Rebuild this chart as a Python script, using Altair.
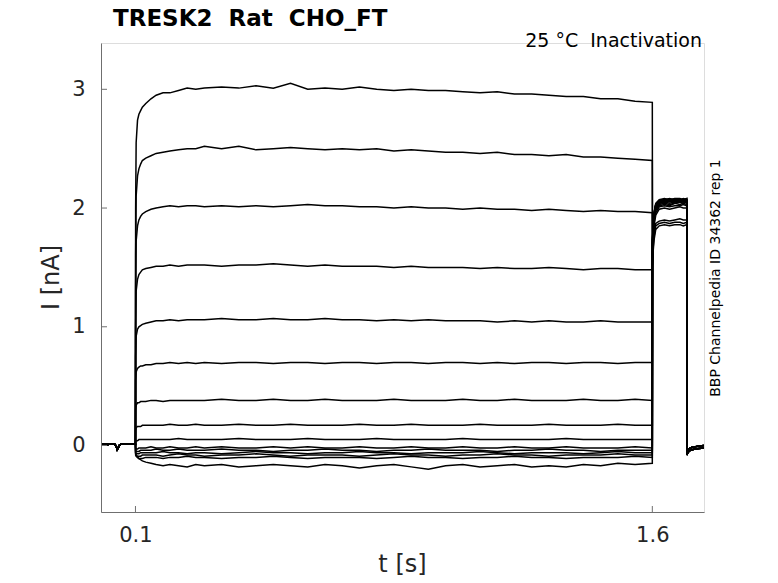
import altair as alt
import pandas as pd

# ---------------- data ----------------
# holding segment (shared by all sweeps)
t_hold = [0.003, 0.01, 0.02, 0.03, 0.04, 0.044, 0.047, 0.05, 0.054, 0.06, 0.07, 0.08, 0.09, 0.095]
i_hold = [0.012, 0.012, 0.008, 0.012, 0.01, -0.005, -0.035, -0.02, 0.005, 0.012, 0.01, 0.013, 0.01, 0.012]

# prepulse segment
t_pre = [0.1, 0.1005, 0.102, 0.106, 0.11, 0.115, 0.12, 0.13, 0.145, 0.16, 0.18, 0.2, 0.225, 0.25, 0.275,
         0.3, 0.35, 0.4, 0.45, 0.5, 0.55, 0.6, 0.65, 0.7, 0.75,
         0.8, 0.85, 0.9, 0.95, 1.0, 1.05, 1.1, 1.15, 1.2, 1.25,
         1.3, 1.35, 1.4, 1.45, 1.5, 1.55, 1.6]

pre_1 = [0.01, 2.0, 2.55, 2.74, 2.79, 2.82, 2.85, 2.88, 2.92, 2.95, 2.97, 2.97, 2.99, 3.01, 3.0,
         3.01, 3.02, 3.01, 3.03, 3.01, 3.05, 3.0, 3.01, 3.0, 3.02,
         3.0, 2.99, 3.0, 2.99, 2.99, 2.98, 2.97, 2.98, 2.96, 2.96,
         2.95, 2.94, 2.94, 2.92, 2.92, 2.9, 2.89]
pre_2 = [0.01, 1.6, 2.1, 2.27, 2.33, 2.37, 2.40, 2.42, 2.44, 2.46, 2.47, 2.48, 2.49, 2.50, 2.50,
         2.52, 2.50, 2.52, 2.49, 2.50, 2.51, 2.50, 2.49, 2.50, 2.49,
         2.50, 2.48, 2.49, 2.48, 2.47, 2.47, 2.46, 2.47, 2.45, 2.45,
         2.44, 2.45, 2.43, 2.43, 2.42, 2.41, 2.40]
pre_3 = [0.01, 1.3, 1.72, 1.85, 1.90, 1.93, 1.95, 1.97, 1.99, 2.0, 2.01, 2.02, 2.01, 2.02, 2.02,
         2.01, 2.02, 2.01, 2.02, 2.01, 2.02, 2.03, 2.02, 2.02, 2.01,
         2.01, 2.0, 2.01, 2.0, 2.0, 1.99, 2.0, 1.99, 1.99, 1.98,
         1.99, 1.98, 1.97, 1.98, 1.97, 1.97, 1.96]
pre_4 = [0.01, 1.0, 1.3, 1.4, 1.44, 1.46, 1.48, 1.49, 1.50, 1.51, 1.51, 1.52, 1.51, 1.52, 1.52,
         1.52, 1.51, 1.52, 1.52, 1.53, 1.52, 1.51, 1.52, 1.51, 1.51,
         1.51, 1.50, 1.51, 1.50, 1.50, 1.50, 1.49, 1.50, 1.49, 1.49,
         1.50, 1.49, 1.48, 1.49, 1.49, 1.48, 1.48]
pre_5 = [0.01, 0.75, 0.92, 0.98, 1.0, 1.01, 1.02, 1.03, 1.04, 1.05, 1.05, 1.06, 1.05, 1.06, 1.06,
         1.06, 1.07, 1.06, 1.06, 1.07, 1.06, 1.06, 1.07, 1.06, 1.06,
         1.05, 1.06, 1.05, 1.06, 1.05, 1.05, 1.05, 1.04, 1.05, 1.04,
         1.05, 1.04, 1.04, 1.05, 1.04, 1.04, 1.04]
pre_6 = [0.01, 0.55, 0.62, 0.65, 0.66, 0.67, 0.67, 0.68, 0.68, 0.69, 0.69, 0.70, 0.69, 0.70, 0.69,
         0.70, 0.69, 0.70, 0.70, 0.69, 0.70, 0.70, 0.69, 0.70, 0.70,
         0.69, 0.70, 0.70, 0.69, 0.70, 0.70, 0.69, 0.70, 0.69, 0.70,
         0.70, 0.69, 0.70, 0.70, 0.69, 0.70, 0.70]
pre_7 = [0.01, 0.30, 0.34, 0.36, 0.36, 0.37, 0.37, 0.37, 0.38, 0.38, 0.37, 0.38, 0.38, 0.38, 0.38,
         0.38, 0.39, 0.38, 0.38, 0.39, 0.38, 0.38, 0.39, 0.38, 0.38,
         0.38, 0.39, 0.38, 0.38, 0.38, 0.39, 0.38, 0.38, 0.39, 0.38,
         0.38, 0.38, 0.39, 0.38, 0.38, 0.39, 0.38]
pre_8 = [0.01, 0.13, 0.15, 0.16, 0.16, 0.16, 0.17, 0.17, 0.17, 0.17, 0.17, 0.18, 0.17, 0.17, 0.18,
         0.17, 0.17, 0.18, 0.17, 0.17, 0.18, 0.17, 0.17, 0.17, 0.18,
         0.17, 0.17, 0.18, 0.17, 0.17, 0.17, 0.18, 0.17, 0.17, 0.17,
         0.18, 0.17, 0.17, 0.17, 0.18, 0.17, 0.17]
pre_9 = [0.01, 0.03, 0.04, 0.04, 0.05, 0.05, 0.05, 0.05, 0.05, 0.05, 0.05, 0.05, 0.06, 0.05, 0.05,
         0.05, 0.05, 0.06, 0.05, 0.05, 0.05, 0.06, 0.05, 0.05, 0.05,
         0.06, 0.05, 0.05, 0.05, 0.05, 0.06, 0.05, 0.05, 0.05, 0.05,
         0.05, 0.06, 0.05, 0.05, 0.05, 0.05, 0.05]
pre_10 = [0.01, -0.02, -0.03, -0.03, -0.02, -0.02, -0.02, -0.02, -0.01, -0.02, -0.02, -0.01, -0.02, -0.02, -0.01,
          -0.02, -0.01, -0.02, -0.02, -0.01, -0.02, -0.01, -0.02, -0.02, -0.01,
          -0.02, -0.02, -0.01, -0.02, -0.02, -0.01, -0.02, -0.02, -0.01, -0.02,
          -0.02, -0.01, -0.02, -0.02, -0.02, -0.01, -0.02]
pre_11 = [0.01, -0.04, -0.05, -0.05, -0.05, -0.04, -0.04, -0.04, -0.04, -0.03, -0.04, -0.04, -0.03, -0.04, -0.04,
          -0.04, -0.03, -0.04, -0.04, -0.05, -0.04, -0.04, -0.03, -0.04, -0.04,
          -0.05, -0.04, -0.04, -0.03, -0.04, -0.04, -0.04, -0.05, -0.04, -0.04,
          -0.03, -0.04, -0.04, -0.05, -0.04, -0.04, -0.04]
pre_12 = [0.01, -0.06, -0.07, -0.07, -0.07, -0.06, -0.06, -0.06, -0.06, -0.06, -0.05, -0.06, -0.06, -0.07, -0.06,
          -0.06, -0.07, -0.06, -0.05, -0.06, -0.06, -0.07, -0.06, -0.06, -0.05,
          -0.06, -0.06, -0.07, -0.06, -0.06, -0.06, -0.05, -0.06, -0.07, -0.06,
          -0.06, -0.06, -0.07, -0.06, -0.05, -0.06, -0.06]
pre_13 = [0.01, -0.07, -0.08, -0.09, -0.09, -0.09, -0.08, -0.08, -0.08, -0.08, -0.09, -0.08, -0.07, -0.08, -0.08,
          -0.09, -0.08, -0.08, -0.07, -0.08, -0.09, -0.08, -0.08, -0.08, -0.09,
          -0.08, -0.07, -0.08, -0.08, -0.09, -0.08, -0.08, -0.07, -0.08, -0.08,
          -0.09, -0.08, -0.08, -0.08, -0.07, -0.08, -0.08]
pre_14 = [0.01, -0.08, -0.09, -0.10, -0.11, -0.11, -0.11, -0.10, -0.10, -0.10, -0.11, -0.10, -0.10, -0.09, -0.10,
          -0.10, -0.11, -0.10, -0.10, -0.09, -0.10, -0.11, -0.10, -0.10, -0.10,
          -0.11, -0.10, -0.09, -0.10, -0.10, -0.11, -0.10, -0.10, -0.09, -0.10,
          -0.10, -0.11, -0.10, -0.10, -0.10, -0.09, -0.10]
pre_15 = [0.01, -0.06, -0.08, -0.10, -0.11, -0.12, -0.13, -0.14, -0.15, -0.16, -0.17, -0.16, -0.17, -0.18, -0.16,
          -0.17, -0.16, -0.18, -0.17, -0.16, -0.17, -0.18, -0.16, -0.17, -0.19,
          -0.17, -0.16, -0.18, -0.20, -0.17, -0.16, -0.18, -0.17, -0.16, -0.18,
          -0.17, -0.18, -0.16, -0.17, -0.15, -0.16, -0.15]

# test pulse segment
t_test = [1.6005, 1.602, 1.605, 1.61, 1.62, 1.635, 1.65, 1.665, 1.68, 1.69, 1.7]
test_1 = [1.52, 1.62, 1.73, 1.82, 1.85, 1.86, 1.85, 1.86, 1.86, 1.85, 1.86]
test_2 = [1.55, 1.65, 1.76, 1.85, 1.87, 1.88, 1.87, 1.88, 1.88, 1.87, 1.88]
test_3 = [1.58, 1.68, 1.79, 1.87, 1.89, 1.90, 1.89, 1.90, 1.91, 1.90, 1.90]
test_4 = [1.62, 1.72, 1.85, 1.94, 1.99, 2.0, 1.99, 2.0, 2.01, 2.0, 2.0]
test_5 = [1.64, 1.75, 1.88, 1.96, 2.01, 2.02, 2.01, 2.02, 2.02, 2.03, 2.02]
test_6 = [1.66, 1.77, 1.9, 1.98, 2.02, 2.03, 2.02, 2.04, 2.03, 2.04, 2.03]
test_7 = [1.68, 1.78, 1.91, 1.99, 2.03, 2.04, 2.03, 2.04, 2.05, 2.04, 2.05]
test_8 = [1.69, 1.79, 1.92, 2.0, 2.04, 2.05, 2.04, 2.05, 2.05, 2.06, 2.05]
test_9 = [1.70, 1.80, 1.93, 2.01, 2.04, 2.05, 2.06, 2.05, 2.06, 2.05, 2.06]
test_10 = [1.71, 1.81, 1.94, 2.02, 2.05, 2.06, 2.05, 2.06, 2.06, 2.07, 2.06]
test_11 = [1.72, 1.82, 1.94, 2.02, 2.05, 2.06, 2.06, 2.07, 2.06, 2.07, 2.07]
test_12 = [1.72, 1.82, 1.95, 2.03, 2.06, 2.07, 2.06, 2.07, 2.07, 2.06, 2.07]
test_13 = [1.73, 1.83, 1.95, 2.03, 2.06, 2.07, 2.07, 2.06, 2.07, 2.08, 2.07]
test_14 = [1.73, 1.83, 1.96, 2.03, 2.06, 2.07, 2.08, 2.07, 2.07, 2.07, 2.08]
test_15 = [1.74, 1.84, 1.96, 2.04, 2.07, 2.08, 2.07, 2.08, 2.08, 2.07, 2.08]

# tail after the test pulse
t_tail = [1.7005, 1.703, 1.708, 1.715, 1.725, 1.735, 1.75]
tail_a = [-0.08, -0.06, -0.045, -0.035, -0.03, -0.025, -0.02]
tail_b = [-0.06, -0.04, -0.025, -0.015, -0.01, -0.005, 0.0]

x_tick_values = [0.1, 1.6]
y_tick_values = [0, 1, 2, 3]

title_text = "TRESK2\u00a0 Rat\u00a0 CHO_FT"
condition_text = "25 °C\u00a0 Inactivation"
source_text = "BBP Channelpedia ID 34362 rep 1"

pre_list = [pre_1, pre_2, pre_3, pre_4, pre_5, pre_6, pre_7, pre_8, pre_9, pre_10,
            pre_11, pre_12, pre_13, pre_14, pre_15]
test_list = [test_1, test_2, test_3, test_4, test_5, test_6, test_7, test_8, test_9, test_10,
             test_11, test_12, test_13, test_14, test_15]
tail_list = [tail_a, tail_b] * 8

rows = []
for k in range(15):
    ts = t_hold + t_pre + t_test + t_tail
    vs = i_hold + pre_list[k] + test_list[k] + tail_list[k]
    for t, v in zip(ts, vs):
        rows.append({"t": t, "I": v, "sweep": k + 1})
df = pd.DataFrame(rows)

# ---------------- chart ----------------
W, H = 603, 469
AXIS_GRAY = "#6f6f6f"
TXT = "#262626"
FONT = "DejaVu Sans"

x_scale = alt.Scale(domain=[0, 1.75], nice=False, zero=False)
y_scale = alt.Scale(domain=[-0.56, 3.39], nice=False, zero=False)

x_axis = alt.Axis(values=x_tick_values, format=".1f", title="t [s]", grid=False,
                  ticks=False, tickSize=0, labelPadding=12, labelFontSize=21,
                  labelColor=TXT, labelFont=FONT, domainColor=AXIS_GRAY, domainWidth=1,
                  titleFontSize=24, titleFontWeight="normal", titleColor=TXT, titleFont=FONT,
                  titleX=301, titleY=52, titleAlign="center", titleBaseline="middle")
y_axis = alt.Axis(values=y_tick_values, format="d", title="I [nA]", grid=False,
                  ticks=False, tickSize=0, labelPadding=16, labelFontSize=21,
                  labelColor=TXT, labelFont=FONT, domainColor=AXIS_GRAY, domainWidth=1,
                  titleFontSize=24, titleFontWeight="normal", titleColor=TXT, titleFont=FONT,
                  titleX=-50, titleY=234, titleAngle=270, titleAlign="center",
                  titleBaseline="middle")

lines = alt.Chart(df).mark_line(color="black", strokeWidth=1.5).encode(
    x=alt.X("t:Q", scale=x_scale, axis=x_axis),
    y=alt.Y("I:Q", scale=y_scale, axis=y_axis),
    detail="sweep:N",
)

xt = alt.Chart(pd.DataFrame({"t": x_tick_values})).mark_rule(color=AXIS_GRAY, strokeWidth=1).encode(
    x=alt.X("t:Q", scale=x_scale, axis=x_axis),
    y=alt.value(H),
    y2=alt.value(H - 6),
)
yt = alt.Chart(pd.DataFrame({"I": y_tick_values})).mark_rule(color=AXIS_GRAY, strokeWidth=1).encode(
    y=alt.Y("I:Q", scale=y_scale, axis=y_axis),
    x=alt.value(0),
    x2=alt.value(6),
)

ttl = alt.Chart(pd.DataFrame({"label": [title_text]})).mark_text(
    align="left", baseline="alphabetic", fontSize=23, fontWeight="bold", font=FONT, color="black"
).encode(text="label:N", x=alt.value(12), y=alt.value(-17))

sub = alt.Chart(pd.DataFrame({"label": [condition_text]})).mark_text(
    align="right", baseline="alphabetic", fontSize=19, font=FONT, color="black"
).encode(text="label:N", x=alt.value(601), y=alt.value(4))

side = alt.Chart(pd.DataFrame({"label": [source_text]})).mark_text(
    align="center", baseline="middle", fontSize=14, font=FONT, color="black", angle=270
).encode(text="label:N", x=alt.value(615), y=alt.value(235))

chart = alt.layer(lines, xt, yt, ttl, sub, side).properties(
    width=W,
    height=H,
    autosize=alt.AutoSizeParams(type="none"),
    padding={"left": 93, "top": 35, "right": 66, "bottom": 63},
).configure_view(stroke=None).configure(background="white")

chart.save("out.html", embed_options={"renderer": "svg", "actions": False})
